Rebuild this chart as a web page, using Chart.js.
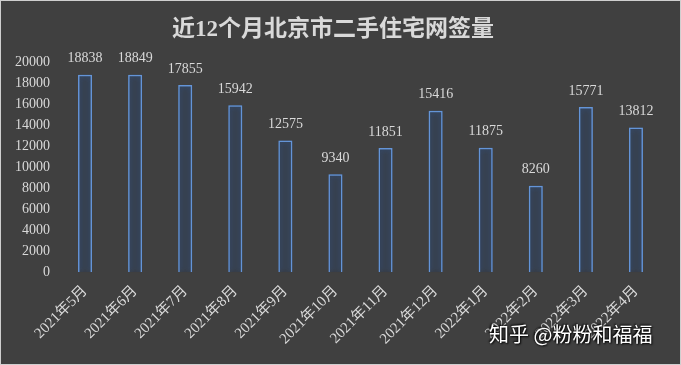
<!DOCTYPE html>
<html>
<head>
<meta charset="utf-8">
<script src="https://cdn.jsdelivr.net/npm/chart.js@4/dist/chart.umd.min.js"></script>
<style>
  html, body { margin: 0; padding: 0; background: #404040; }
  .wrap { position: relative; width: 681px; height: 365px; box-sizing: border-box; border: 1px solid #cfcfcf; }
  canvas { display: block; }
  .mark {
    position: absolute; left: 488px; top: 318px;
    font-family: "Noto Sans CJK SC", sans-serif; font-size: 20px; color: #ffffff;
    text-shadow: 1px 1px 2px #000, -1px -1px 2px #000;
  }
</style>
</head>
<body>
<div class="wrap">
  <canvas id="chart" width="679" height="363"></canvas>
  <div class="mark">知乎 @粉粉和福福</div>
</div>
<script>
const months = [
  "2021年5月", "2021年6月", "2021年7月", "2021年8月", "2021年9月", "2021年10月",
  "2021年11月", "2021年12月", "2022年1月", "2022年2月", "2022年3月", "2022年4月"
];
const deals = [18838, 18849, 17855, 15942, 12575, 9340, 11851, 15416, 11875, 8260, 15771, 13812];

const textColor = "#d9d9d9";
const serif = "'Liberation Serif', 'Noto Sans CJK SC', serif";

// glow around the bars + value labels on top
const barDecor = {
  id: "barDecor",
  beforeDatasetsDraw(chart) {
    const ctx = chart.ctx;
    ctx.save();
    ctx.shadowColor = "rgba(55,105,185,0.95)";
    ctx.shadowBlur = 5;
  },
  afterDatasetsDraw(chart) {
    const ctx = chart.ctx;
    ctx.restore();
    ctx.save();
    ctx.fillStyle = textColor;
    ctx.font = "14px " + serif;
    ctx.textAlign = "center";
    ctx.textBaseline = "bottom";
    chart.getDatasetMeta(0).data.forEach((bar, i) => {
      ctx.fillText(deals[i], bar.x, bar.y - 9);
    });
    ctx.restore();
  },
};

new Chart(document.getElementById("chart"), {
  type: "bar",
  data: {
    labels: months,
    datasets: [
      {
        data: deals,
        backgroundColor: "rgba(30,40,55,0.2)",
        borderColor: "rgb(104,152,218)",
        borderWidth: 1.5,
        barPercentage: 0.28,
        categoryPercentage: 1,
      },
    ],
  },
  plugins: [barDecor],
  options: {
    responsive: false,
    animation: false,
    layout: { padding: { left: 4, right: 19, bottom: 14 } },
    plugins: {
      legend: { display: false },
      tooltip: { enabled: false },
      title: {
        display: true,
        text: "近12个月北京市二手住宅网签量",
        color: textColor,
        font: { family: serif, size: 23, weight: "bold" },
        padding: { top: 15, bottom: 19 },
      },
    },
    scales: {
      y: {
        min: 0,
        max: 20000,
        ticks: {
          stepSize: 2000,
          color: textColor,
          font: { family: serif, size: 14 },
          padding: 10,
          callback: (v) => String(v),
        },
        grid: { display: false, drawTicks: false },
        border: { display: false },
      },
      x: {
        // let the first slanted label hang past the plot edge
        afterFit: (scale) => {
          scale.paddingLeft = 0;
        },
        ticks: {
          color: textColor,
          font: { family: serif, size: 15 },
          minRotation: 45,
          maxRotation: 45,
          padding: 2,
        },
        grid: { display: false },
        border: { display: false },
      },
    },
  },
});
</script>
</body>
</html>
